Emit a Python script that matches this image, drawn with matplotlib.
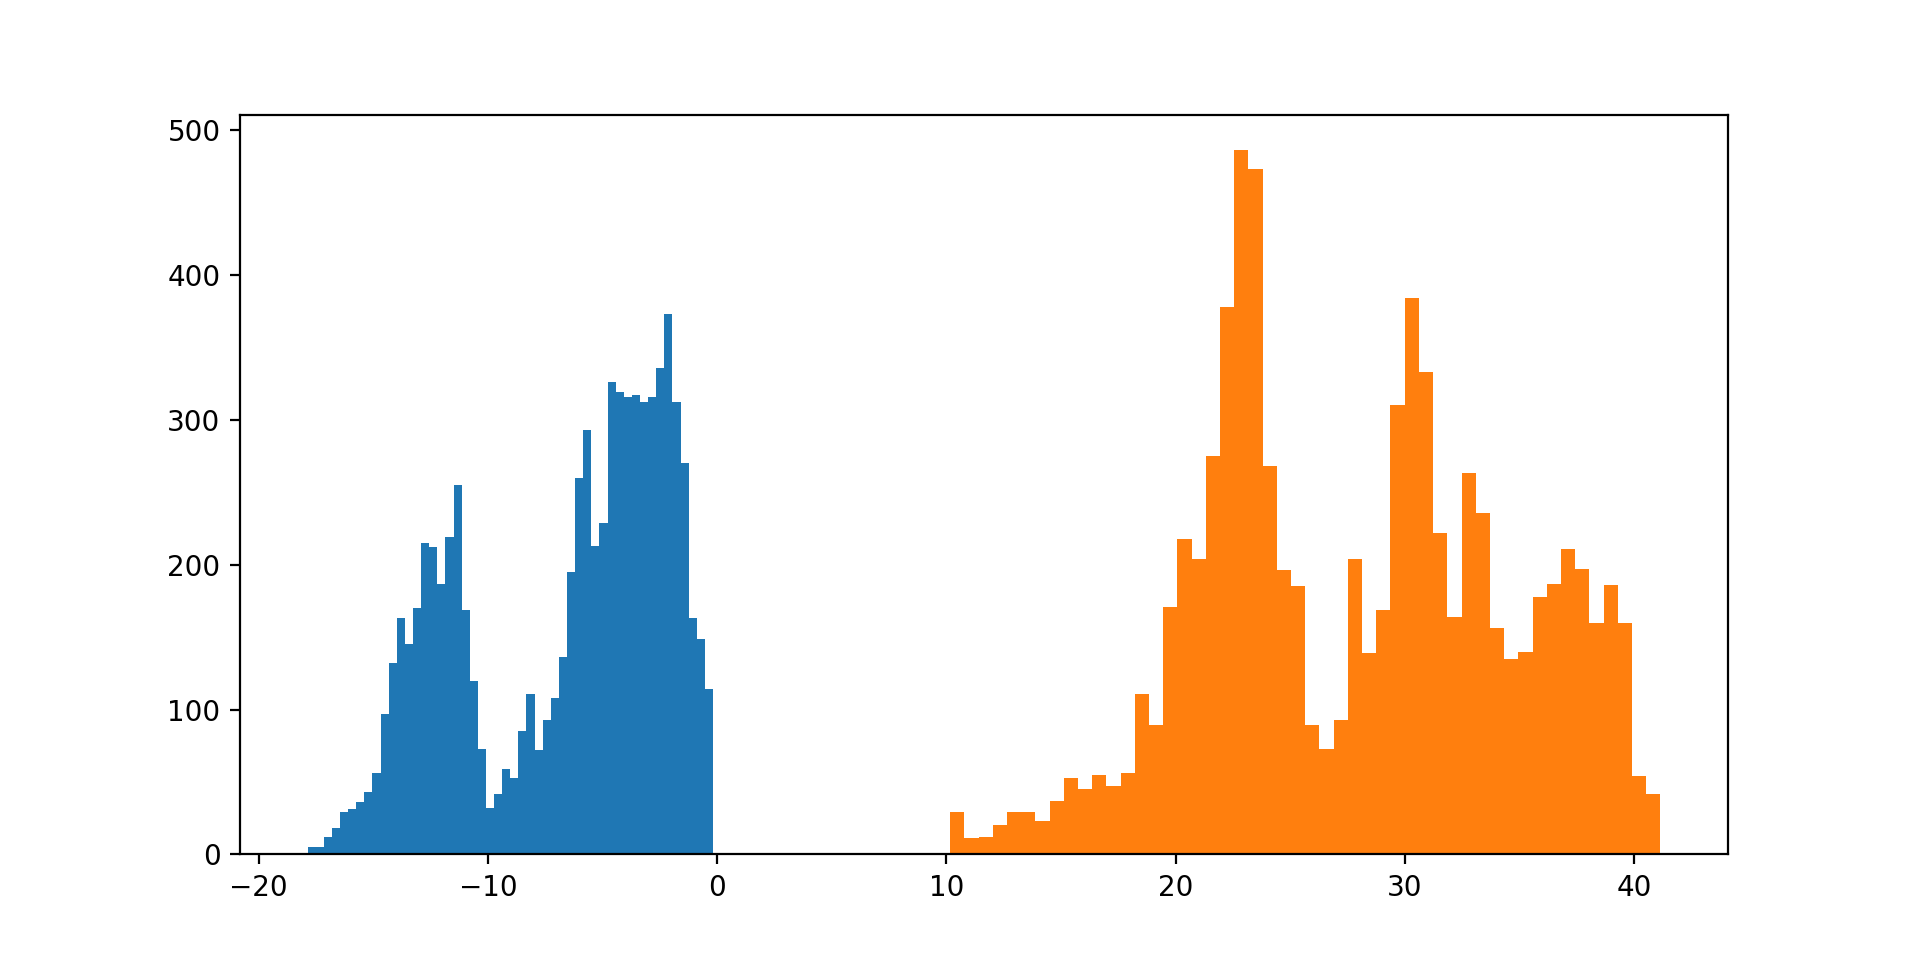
import matplotlib
matplotlib.use('Agg')
import matplotlib.pyplot as plt
import numpy as np

# bin range and counts (50 bins each)
blue_range = (-17.86, -0.18)
blue_counts = [5, 5, 12, 18, 29, 31, 36, 43, 56, 97,
               132, 163, 145, 170, 215, 212, 187, 219, 255, 169,
               120, 73, 32, 42, 59, 53, 85, 111, 72, 93,
               108, 136, 195, 260, 293, 213, 229, 326, 319, 316,
               317, 312, 316, 336, 373, 312, 270, 163, 149, 114]

orange_range = (10.17, 41.15)
orange_counts = [29, 11, 12, 20, 29, 29, 23, 37, 53, 45,
                 55, 47, 56, 111, 89, 171, 218, 204, 275, 378,
                 486, 473, 268, 196, 185, 89, 73, 93, 204, 139,
                 169, 310, 384, 333, 222, 164, 263, 236, 156, 135,
                 140, 178, 187, 211, 197, 160, 186, 160, 54, 42]

fig, ax = plt.subplots(figsize=(9.6, 4.8), dpi=200)

for rng, counts in [(blue_range, blue_counts), (orange_range, orange_counts)]:
    edges = np.linspace(rng[0], rng[1], len(counts) + 1)
    centers = (edges[:-1] + edges[1:]) / 2
    ax.hist(centers, bins=edges, weights=counts)

fig.savefig('out.png', dpi=200)
